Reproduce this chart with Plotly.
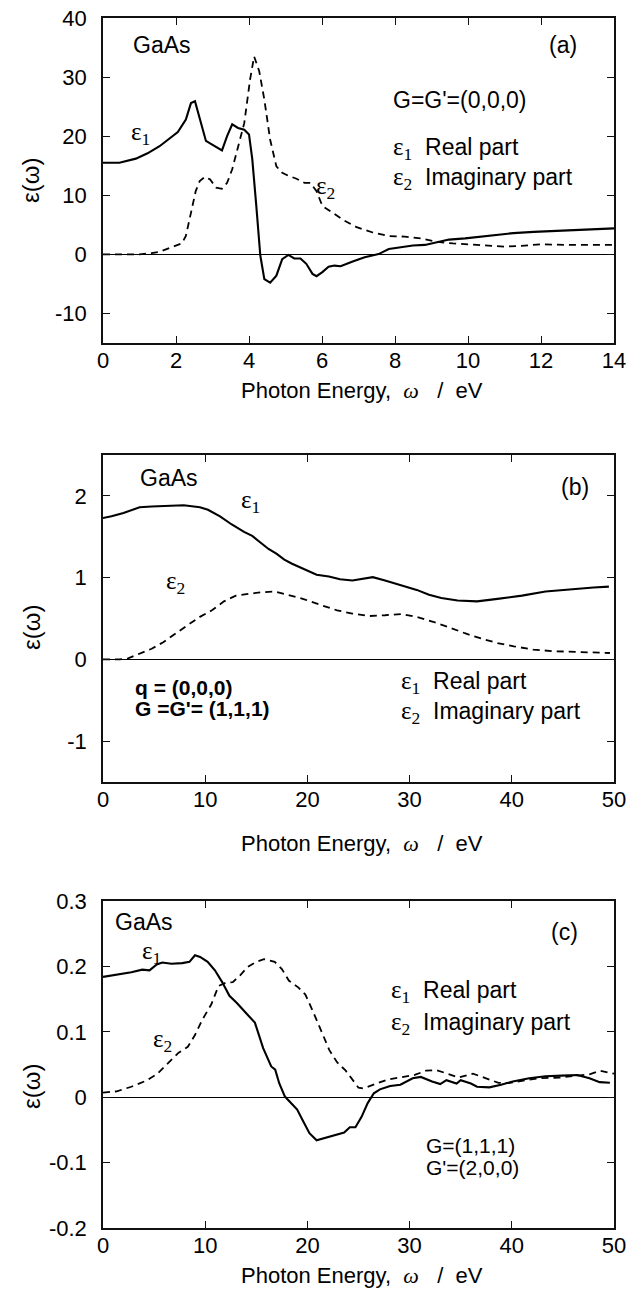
import plotly.graph_objects as go

# ---------------- data ----------------
# Panel (a): G=G'=(0,0,0), 0-14 eV
a_e1_x = [0, 0.45, 0.9, 1.22, 1.55, 1.77, 2.05, 2.27, 2.41, 2.52, 2.65, 2.82, 2.98, 3.26, 3.40, 3.54,
          3.70, 3.87, 4.0, 4.09, 4.20, 4.31, 4.42, 4.58, 4.75, 4.91, 5.08, 5.24, 5.41, 5.57, 5.74, 5.85,
          6.01, 6.18, 6.34, 6.51, 6.84, 7.17, 7.55, 7.83, 8.16, 8.49, 8.82, 9.15, 9.48, 9.92, 10.36,
          10.8, 11.24, 11.8, 12.57, 13.34, 14.0]
a_e1_y = [15.5, 15.5, 16.2, 17.1, 18.3, 19.4, 20.7, 22.8, 25.6, 25.9, 22.8, 19.2, 18.6, 17.6, 20.0, 22.0,
          21.4, 21.1, 20.3, 16.1, 8.2, -0.2, -4.2, -4.8, -3.6, -0.8, -0.1, -0.7, -0.7, -1.6, -3.3, -3.7,
          -3.0, -2.1, -1.9, -2.0, -1.2, -0.5, 0.05, 0.9, 1.2, 1.5, 1.6, 2.0, 2.5, 2.7, 3.0,
          3.3, 3.6, 3.8, 4.0, 4.2, 4.4]
a_e2_x = [0, 0.45, 1.0, 1.33, 1.55, 1.88, 2.16, 2.27, 2.38, 2.54, 2.65, 2.79, 2.93, 3.1, 3.26, 3.4,
          3.54, 3.7, 3.87, 4.03, 4.14, 4.28, 4.42, 4.58, 4.75, 4.91, 5.08, 5.3, 5.52, 5.68, 5.85, 6.01,
          6.29, 6.62, 6.95, 7.39, 7.83, 8.27, 8.71, 9.15, 9.59, 10.14, 10.58, 11.02, 11.46, 12.0,
          12.79, 14.0]
a_e2_y = [0, 0, 0, 0.2, 0.45, 1.2, 1.85, 3.1, 6.0, 10.7, 12.4, 13.1, 12.7, 11.3, 11.1, 12.1,
          14.4, 18.3, 22.2, 29.6, 33.5, 31.0, 26.2, 19.4, 14.9, 13.8, 13.3, 12.8, 12.1, 12.1, 10.7, 8.2,
          7.1, 5.7, 4.6, 3.7, 3.1, 3.0, 2.7, 2.1, 1.85, 1.6, 1.4, 1.3, 1.45, 1.7,
          1.6, 1.6]

# Panel (b): q=(0,0,0), G=G'=(1,1,1), 0-50 eV
b_e1_x = [0, 0.83, 2.0, 3.58, 4.76, 6.33, 7.9, 9.48, 10.27, 11.45, 12.6, 13.8, 14.6, 15.4, 16.2, 17.0,
          17.74, 18.5, 19.7, 20.9, 22.1, 23.2, 24.4, 25.2, 26.4, 27.6, 29.2, 30.7, 31.9, 33.1, 34.7,
          36.6, 38.6, 41.0, 43.3, 45.7, 48.0, 49.5]
b_e1_y = [1.73, 1.75, 1.79, 1.86, 1.87, 1.88, 1.885, 1.86, 1.83, 1.75, 1.65, 1.56, 1.51, 1.43, 1.35, 1.29,
          1.22, 1.17, 1.10, 1.035, 1.014, 0.98, 0.965, 0.98, 1.006, 0.965, 0.91, 0.85, 0.79, 0.75, 0.72,
          0.71, 0.74, 0.78, 0.83, 0.86, 0.88, 0.89]
b_e2_x = [0, 1.6, 2.4, 3.6, 4.76, 5.9, 7.1, 8.3, 9.48, 10.66, 11.84, 13.0, 14.2, 15.4, 16.8, 18.1,
          19.7, 21.3, 22.9, 24.4, 26.0, 27.6, 29.2, 30.7, 32.3, 33.9, 35.4, 37.0, 38.6, 40.2, 42.1,
          44.1, 46.1, 49.6]
b_e2_y = [0, 0, 0.01, 0.07, 0.13, 0.21, 0.32, 0.42, 0.52, 0.60, 0.71, 0.78, 0.80, 0.82, 0.83, 0.79,
          0.735, 0.665, 0.60, 0.56, 0.53, 0.54, 0.555, 0.52, 0.46, 0.39, 0.32, 0.255, 0.20, 0.16, 0.12,
          0.10, 0.094, 0.078]

# Panel (c): G=(1,1,1), G'=(2,0,0), 0-50 eV
c_e1_x = [0, 1.35, 2.77, 3.84, 4.55, 5.26, 5.8, 6.7, 7.75, 8.46, 9.0, 9.5, 10.24, 10.95, 11.66, 12.37,
          13.1, 13.97, 14.86, 15.67, 16.46, 16.85, 17.25, 17.8, 18.4, 19.0, 19.6, 20.2, 20.9, 21.6,
          22.4, 23.6, 24.15, 24.7, 25.3, 25.9, 26.5, 27.1, 28.1, 29.1, 30.3, 31.1, 32.2, 33.0, 33.6,
          34.6, 35.0, 36.0, 36.6, 37.8, 38.95, 40.1, 41.7, 43.3, 44.9, 46.4, 47.6, 48.6, 49.6]
c_e1_y = [0.184, 0.1875, 0.191, 0.195, 0.194, 0.203, 0.206, 0.204, 0.205, 0.207, 0.217, 0.2145, 0.207,
          0.194, 0.176, 0.155, 0.144, 0.129, 0.114, 0.075, 0.047, 0.042, 0.021, 0.001, -0.009, -0.019,
          -0.037, -0.055, -0.066, -0.063, -0.060, -0.054, -0.046, -0.046, -0.030, -0.009, 0.006, 0.012,
          0.017, 0.019, 0.029, 0.031, 0.024, 0.020, 0.026, 0.021, 0.026, 0.021, 0.016, 0.015, 0.019,
          0.024, 0.029, 0.032, 0.033, 0.034, 0.029, 0.023, 0.022]
c_e2_x = [0, 1.35, 2.77, 4.2, 5.26, 6.33, 7.4, 8.3, 9.0, 9.7, 10.6, 11.3, 12.0, 12.7, 13.4, 14.15,
          15.0, 15.75, 16.8, 17.5, 18.2, 19.1, 19.8, 20.55, 21.3, 22.15, 22.9, 23.75, 24.5, 25.0, 25.5,
          26.2, 26.96, 28.0, 29.45, 30.5, 31.6, 32.6, 33.7, 34.8, 36.2, 37.3, 38.7, 39.8, 41.2, 42.6,
          44.7, 46.2, 47.6, 48.65, 50.0]
c_e2_y = [0.007, 0.009, 0.016, 0.025, 0.035, 0.052, 0.068, 0.077, 0.095, 0.118, 0.142, 0.170, 0.175,
          0.176, 0.186, 0.199, 0.207, 0.211, 0.207, 0.196, 0.178, 0.168, 0.157, 0.131, 0.103, 0.072,
          0.0535, 0.0405, 0.025, 0.0145, 0.0135, 0.017, 0.022, 0.0275, 0.031, 0.034, 0.0405, 0.0415,
          0.036, 0.030, 0.036, 0.030, 0.022, 0.022, 0.025, 0.029, 0.030, 0.033, 0.035, 0.0405, 0.036]

# tick labels
a_xticks = [0, 2, 4, 6, 8, 10, 12, 14]
a_yticks = [-10, 0, 10, 20, 30, 40]
a_ytext = ["-10", "0", "10", "20", "30", "40"]
bc_xticks = [0, 10, 20, 30, 40, 50]
b_yticks = [-1, 0, 1, 2]
b_ytext = ["-1", "0", "1", "2"]
c_yticks = [-0.2, -0.1, 0, 0.1, 0.2, 0.3]
c_ytext = ["-0.2", "-0.1", "0", "0.1", "0.2", "0.3"]

# ---------------- figure ----------------
# the page body margin is removed (post_script below), so the figure fills the window
W, H = 629, 1289
SANS = "Liberation Sans, Arial, Helvetica, sans-serif"
SERIF = "Liberation Serif, Times New Roman, serif"

def pyf(py):
    return 1 - py / H

def pxf(px):
    return px / W

x_dom = [pxf(103), pxf(614)]
panels = [
    dict(top=18, bot=343, xr=[0, 14], yr=[-15, 40], xt=a_xticks, yt=a_yticks, ytt=a_ytext),
    dict(top=455, bot=782, xr=[0, 50], yr=[-1.5, 2.5], xt=bc_xticks, yt=b_yticks, ytt=b_ytext),
    dict(top=901, bot=1228, xr=[0, 50], yr=[-0.2, 0.3], xt=bc_xticks, yt=c_yticks, ytt=c_ytext),
]

fig = go.Figure()
series = [
    (a_e1_x, a_e1_y, a_e2_x, a_e2_y),
    (b_e1_x, b_e1_y, b_e2_x, b_e2_y),
    (c_e1_x, c_e1_y, c_e2_x, c_e2_y),
]
for i, (x1, y1, x2, y2) in enumerate(series):
    sfx = "" if i == 0 else str(i + 1)
    fig.add_trace(go.Scatter(x=x1, y=y1, mode="lines", xaxis="x" + sfx, yaxis="y" + sfx,
                             line=dict(color="black", width=2.1), showlegend=False))
    fig.add_trace(go.Scatter(x=x2, y=y2, mode="lines", xaxis="x" + sfx, yaxis="y" + sfx,
                             line=dict(color="black", width=1.8, dash="7px,5px"), showlegend=False))

axis_common = dict(showline=True, linecolor="#111", linewidth=1.5, mirror="ticks",
                   ticks="inside", ticklen=7, tickwidth=1.2, tickcolor="#111", automargin=False,
                   ticklabeloverflow="allow", showgrid=False,
                   tickfont=dict(family=SANS, size=22, color="black"))
for i, p in enumerate(panels):
    sfx = "" if i == 0 else str(i + 1)
    fig.layout["xaxis" + sfx] = dict(axis_common, domain=x_dom, range=p["xr"], anchor="y" + sfx,
                                     tickvals=p["xt"], zeroline=False, ticklabelstandoff=-3)
    fig.layout["yaxis" + sfx] = dict(axis_common, domain=[pyf(p["bot"]), pyf(p["top"])], range=p["yr"],
                                     anchor="x" + sfx, tickvals=p["yt"], ticktext=p["ytt"],
                                     zeroline=True, zerolinecolor="black", zerolinewidth=1,
                                     ticklabelstandoff=10)

def eps(n):
    return '<span style="font-family:%s;font-size:25px">ε<sub>%d</sub></span>' % (SERIF, n)

NB = "\u00a0"
xtitle = ("Photon Energy," + NB * 2 + '<span style="font-family:%s"><i>ω</i></span>' % SERIF
          + NB * 3 + "/" + NB * 2 + "eV")
ytitle = "ε(ω)"

ann = []
def A(text, x, y, xref, yref, xanchor="left", size=23, **kw):
    ann.append(dict(text=text, x=x, y=y, xref=xref, yref=yref, xanchor=xanchor, yanchor="middle",
                    showarrow=False, font=dict(family=SANS, size=size, color="black"), **kw))

# axis titles
for p, yc in zip(panels, [181, 628, 1087]):
    A(ytitle, pxf(31), pyf(yc), "paper", "paper", xanchor="center", size=24, textangle=-90)
for yc in [391, 843, 1275]:
    A(xtitle, pxf(362), pyf(yc), "paper", "paper", xanchor="center", size=22)

# panel (a)
A("GaAs", 0.78, 35.4, "x", "y")
A("(a)", 12.6, 35.4, "x", "y", xanchor="center")
A("G=G'=(0,0,0)", 7.88, 26.1, "x", "y")
A(eps(1) + NB * 2 + "Real part", 7.88, 18.0, "x", "y")
A(eps(2) + NB * 2 + "Imaginary part", 7.88, 12.9, "x", "y")
A(eps(1), 1.02, 20.5, "x", "y", xanchor="center")
A(eps(2), 6.1, 11.4, "x", "y", xanchor="center")

# panel (b)
A("GaAs", 3.4, 2.22, "x2", "y2")
A("(b)", 46.2, 2.11, "x2", "y2", xanchor="center")
A(eps(1), 14.4, 1.93, "x2", "y2", xanchor="center")
A(eps(2), 7.1, 0.94, "x2", "y2", xanchor="center")
A("<b>q = (0,0,0)</b>", 2.9, -0.35, "x2", "y2", size=21)
A("<b>G =G'= (1,1,1)</b>", 2.9, -0.60, "x2", "y2", size=21)
A(eps(1) + NB * 2 + "Real part", 29.0, -0.28, "x2", "y2")
A(eps(2) + NB * 2 + "Imaginary part", 29.0, -0.65, "x2", "y2")

# panel (c)
A("GaAs", 1.0, 0.268, "x3", "y3")
A("(c)", 45.2, 0.253, "x3", "y3", xanchor="center")
A(eps(1), 4.75, 0.222, "x3", "y3", xanchor="center")
A(eps(2), 5.8, 0.087, "x3", "y3", xanchor="center")
A(eps(1) + NB * 2 + "Real part", 28.0, 0.161, "x3", "y3")
A(eps(2) + NB * 2 + "Imaginary part", 28.0, 0.113, "x3", "y3")
A("G=(1,1,1)", 31.4, -0.0745, "x3", "y3", size=21)
A("G'=(2,0,0)", 31.4, -0.107, "x3", "y3", size=21)

fig.update_layout(width=W, height=H, margin=dict(l=0, r=0, t=0, b=0, autoexpand=False),
                  paper_bgcolor="white", plot_bgcolor="white", annotations=ann,
                  font=dict(family=SANS, color="black"))

fig.write_html("out.html", config={"displayModeBar": False},
               post_script="document.body.style.margin='0px';document.body.style.overflow='hidden';")
